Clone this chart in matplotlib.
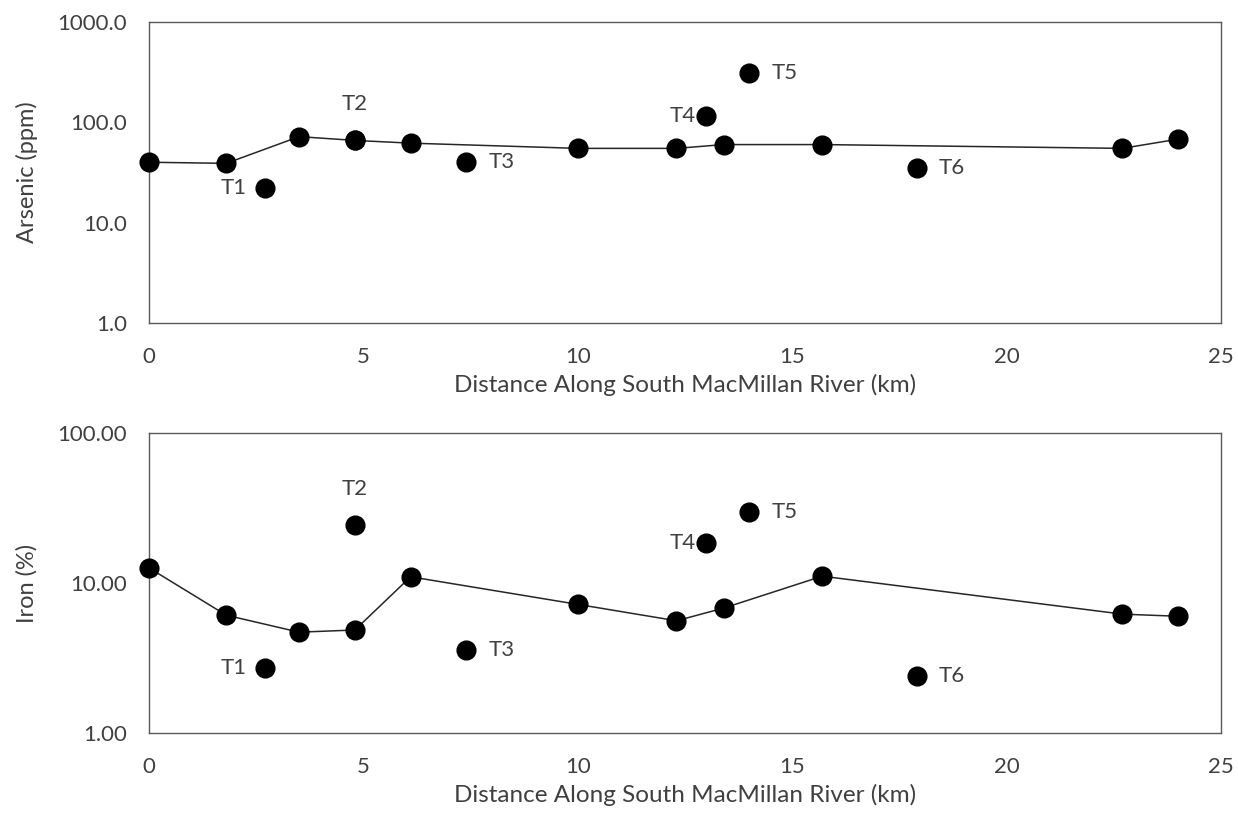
import numpy as np
import matplotlib
matplotlib.use("Agg")
import matplotlib.pyplot as plt
from matplotlib.ticker import FormatStrFormatter, FixedLocator, NullLocator

plt.rcParams['font.family'] = ['Lato', 'DejaVu Sans']

# === DATA ===
# main-stem samples (connected by line)
dist_main = [0.0, 1.8, 3.5, 4.8, 6.1, 10.0, 12.3, 13.4, 15.7, 22.7, 24.0]
arsenic_main = [40, 39, 72, 66, 62, 55, 55, 60, 60, 55, 68]
iron_main = [12.6, 6.1, 4.7, 4.86, 11.0, 7.2, 5.6, 6.8, 11.1, 6.2, 6.0]

# tributary samples
trib_labels = ["T1", "T2", "T3", "T4", "T5", "T6"]
dist_trib = [2.7, 4.8, 7.4, 13.0, 14.0, 17.9]
arsenic_trib = [22, 67, 40, 115, 310, 35]
iron_trib = [2.7, 24.4, 3.6, 18.5, 29.7, 2.4]

x_ticks = [0, 5, 10, 15, 20, 25]
xlabel = "Distance Along South MacMillan River (km)"

# label placement for each tributary: (dx px, dy px, ha, va)
label_pos = {
    "T1": (-18, 0, "right", "center"),
    "T2": (0, 26, "center", "bottom"),
    "T3": (22, 0, "left", "center"),
    "T4": (-11, 0, "right", "center"),
    "T5": (22, 0, "left", "center"),
    "T6": (22, 0, "left", "center"),
}

text_color = "#404040"
spine_color = "#595959"
fs = 16

fig = plt.figure(figsize=(12.38, 8.14), dpi=100)
ax1 = fig.add_axes([0.1204, 0.6032, 0.8659, 0.3698])
ax2 = fig.add_axes([0.1204, 0.0995, 0.8659, 0.3686])


def draw(ax, ymain, ytrib, ylim, fmt, ylabel):
    ax.plot(dist_main, ymain, color="#262626", lw=1.1, marker="o",
            markersize=13.5, markerfacecolor="black", markeredgecolor="black",
            clip_on=False, zorder=3)
    ax.plot(dist_trib, ytrib, linestyle="none", marker="o", markersize=13.5,
            markerfacecolor="black", markeredgecolor="black", clip_on=False, zorder=3)
    for lab, x, y in zip(trib_labels, dist_trib, ytrib):
        dx, dy, ha, va = label_pos[lab]
        ax.annotate(lab, (x, y), xytext=(dx * 0.72, dy * 0.72), textcoords="offset points",
                    ha=ha, va=va, fontsize=fs, color=text_color)
    ax.set_yscale("log")
    ax.set_ylim(*ylim)
    ax.set_xlim(0, 25)
    decades = [10 ** k for k in range(int(np.log10(ylim[0])), int(np.log10(ylim[1])) + 1)]
    ax.yaxis.set_major_locator(FixedLocator(decades))
    ax.yaxis.set_minor_locator(NullLocator())
    ax.yaxis.set_major_formatter(FormatStrFormatter(fmt))
    ax.set_xticks(x_ticks)
    ax.tick_params(axis="both", length=0, labelsize=fs, colors=text_color)
    ax.tick_params(axis="y", pad=16)
    ax.tick_params(axis="x", pad=17)
    for s in ax.spines.values():
        s.set_color(spine_color)
        s.set_linewidth(1.0)
    ax.set_xlabel(xlabel, fontsize=17.5, color=text_color, labelpad=5)
    ax.set_ylabel(ylabel, fontsize=17, color=text_color, labelpad=14)


draw(ax1, arsenic_main, arsenic_trib, (1, 1000), "%.1f", "Arsenic (ppm)")
draw(ax2, iron_main, iron_trib, (1, 100), "%.2f", "Iron (%)")

fig.savefig("out.png", dpi=100)
